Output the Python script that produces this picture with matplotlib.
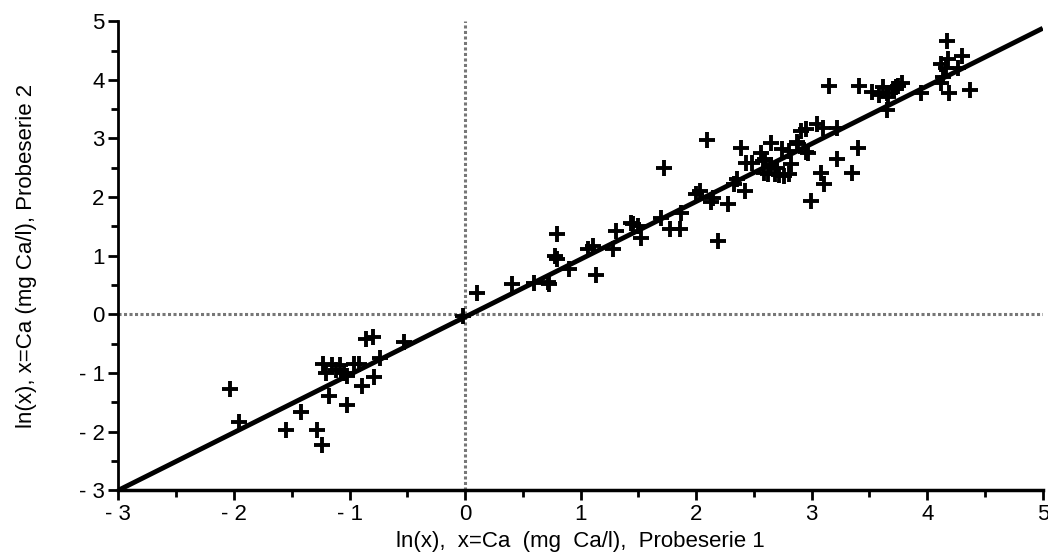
import matplotlib
matplotlib.use("Agg")
import matplotlib.pyplot as plt
from matplotlib.ticker import MultipleLocator, FixedLocator, FixedFormatter

plt.rcParams['font.family'] = ['Liberation Sans Narrow', 'Liberation Sans', 'DejaVu Sans']

# ln(Ca) values, series 1 (x) and series 2 (y)
x_vals = [
    -2.03, -1.96, -1.55, -1.42, -1.28, -1.24, -1.18, -1.02,
    -1.23, -1.15, -1.08, -1.20, -1.12, -1.05, -1.02, -0.96, -0.92,
    -0.86, -0.80, -0.53, -0.74, -0.79, -0.89,
    -0.02, 0.10, 0.41, 0.60, 0.72, 0.73, 0.78, 0.80, 0.80, 0.90,
    1.13, 1.11, 1.06, 1.28, 1.31, 1.45, 1.44, 1.50, 1.52, 1.72,
    1.70, 1.87, 1.77, 1.86, 2.03, 2.00, 2.15, 2.13, 2.28, 2.19,
    2.35, 2.33, 2.42, 2.43, 2.09, 2.39, 2.48, 2.59, 2.68,
    2.56, 2.60, 2.65, 2.70, 2.62, 2.72, 2.80, 2.58, 2.76,
    2.74, 2.80, 2.88, 2.82, 2.65, 2.87, 2.95, 2.91, 2.95, 3.05, 3.10,
    3.22, 3.40, 3.22, 3.08, 3.11, 3.35, 2.99, 2.97,
    3.15, 3.41, 3.52, 3.58, 3.65, 3.70, 3.75, 3.62, 3.65, 3.66,
    3.73, 3.78, 3.95, 4.17, 4.18, 4.16, 4.14, 4.12, 4.30, 4.27,
    4.19, 4.37, 4.12,
]
y_vals = [
    -1.28, -1.83, -1.97, -1.66, -1.97, -2.22, -1.40, -1.54,
    -0.85, -0.87, -0.87, -1.00, -0.95, -1.00, -1.05, -0.84, -0.84,
    -0.42, -0.38, -0.47, -0.75, -1.06, -1.23,
    -0.03, 0.36, 0.51, 0.53, 0.56, 0.51, 0.99, 0.95, 1.37, 0.77,
    0.68, 1.16, 1.11, 1.11, 1.42, 1.54, 1.56, 1.50, 1.30, 2.50,
    1.64, 1.73, 1.46, 1.46, 2.10, 2.05, 1.99, 1.91, 1.88, 1.25,
    2.31, 2.22, 2.10, 2.58, 2.97, 2.84, 2.58, 2.41, 2.39,
    2.75, 2.65, 2.55, 2.50, 2.40, 2.38, 2.40, 2.61, 2.36,
    2.82, 2.79, 2.90, 2.56, 2.92, 2.94, 2.77, 3.12, 3.16, 3.25, 3.18,
    3.18, 2.84, 2.65, 2.41, 2.22, 2.41, 1.93, 2.75,
    3.90, 3.90, 3.80, 3.75, 3.78, 3.85, 3.90, 3.88, 3.49, 3.71,
    3.87, 3.95, 3.78, 4.66, 4.36, 4.20, 4.05, 3.95, 4.40, 4.21,
    3.78, 3.82, 4.27,
]

# regression line end points
fit_x = [-3, 5]
fit_y = [-3, 4.88]

tick_vals = [-3, -2, -1, 0, 1, 2, 3, 4, 5]
tick_text = ["- 3", "- 2", "- 1", "0", "1", "2", "3", "4", "5"]

fig = plt.figure(figsize=(10.48, 5.59), dpi=100)
ax = fig.add_axes([0.113, 0.123, 0.882, 0.839])

ax.axhline(0, color="#777777", lw=2.2, ls=(0, (1, 0.8)), zorder=1)
ax.axvline(0, color="#777777", lw=2.2, ls=(0, (1, 0.8)), zorder=1)

ax.plot(fit_x, fit_y, color="black", lw=3.5, zorder=2, solid_capstyle="butt")
ax.plot(x_vals, y_vals, ls="none", marker="+", ms=11, mew=2.8,
        color="black", zorder=3)

ax.set_xlim(-3, 5)
ax.set_ylim(-3, 5)

for axis in (ax.xaxis, ax.yaxis):
    axis.set_major_locator(FixedLocator(tick_vals))
    axis.set_major_formatter(FixedFormatter(tick_text))
    axis.set_minor_locator(MultipleLocator(0.5))

ax.spines["top"].set_visible(False)
ax.spines["right"].set_visible(False)
ax.spines["bottom"].set_linewidth(2.5)
ax.spines["left"].set_linewidth(2)
ax.tick_params(which="major", direction="out", length=7, width=2,
               labelsize=16, pad=3)
ax.tick_params(which="minor", direction="out", length=5, width=2)

ax.set_xlabel("ln(x),  x=Ca  (mg  Ca/l),  Probeserie 1", fontsize=16, labelpad=4)
ax.set_ylabel("ln(x), x=Ca (mg Ca/l), Probeserie 2", fontsize=16, labelpad=30)

fig.savefig("out.png", dpi=100)
